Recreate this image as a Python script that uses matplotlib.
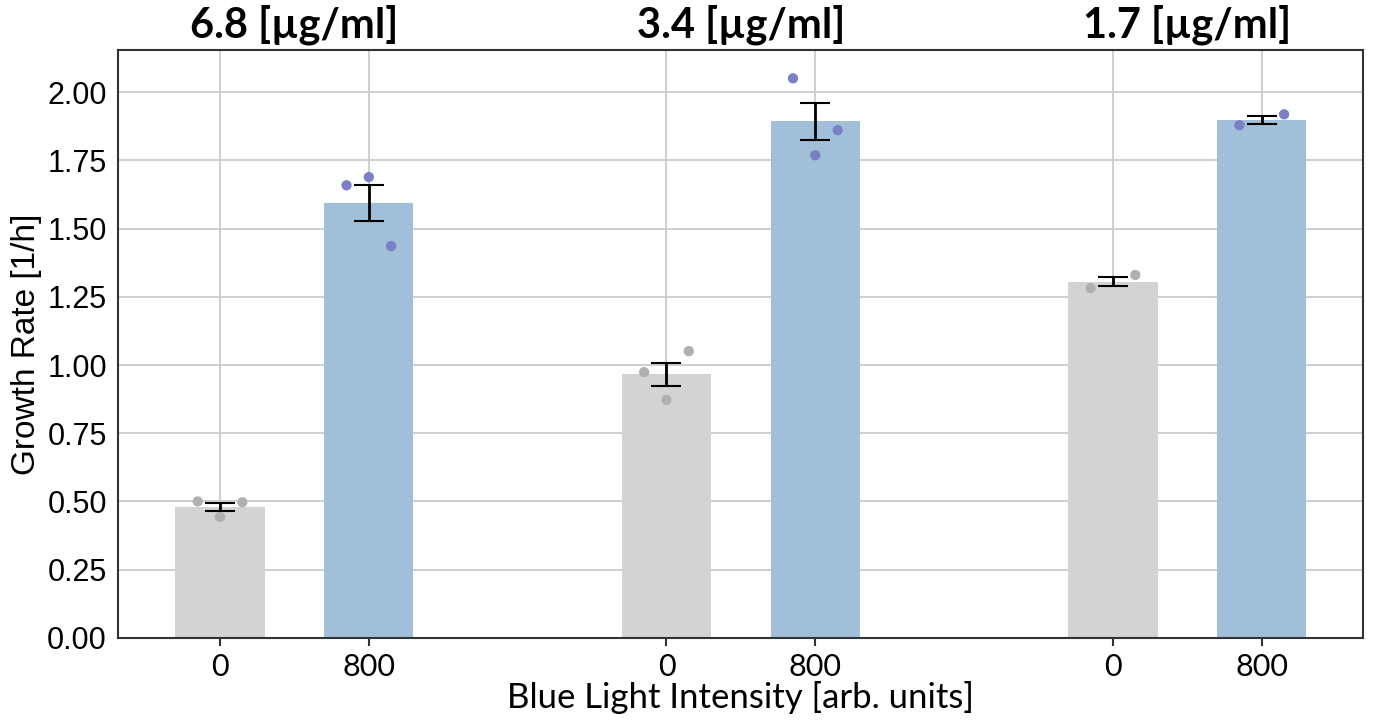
#!/usr/bin/env python3
"""Growth rate vs blue light intensity at three drug concentrations"""
#=========================================================================#
# Preamble                                                                #
#=========================================================================#
import numpy as np
import matplotlib
matplotlib.use('Agg')
import matplotlib.pyplot as plt
#-------------------------------------------------------------------------#
# Data                                                                    #
#-------------------------------------------------------------------------#
concentrations  = ['6.8 [µg/ml]', '3.4 [µg/ml]', '1.7 [µg/ml]']
intensities     = ['0', '800']
# replicate growth rates [1/h], per concentration, for 0 and 800
rates_dark      = [[0.50, 0.443, 0.497],
                   [0.974, 0.872, 1.051],
                   [1.282, 1.330]]
rates_light     = [[1.659, 1.689, 1.436],
                   [2.051, 1.769, 1.861],
                   [1.879, 1.919]]
#-------------------------------------------------------------------------#
# Styles                                                                  #
#-------------------------------------------------------------------------#
bar_colors      = ['#d3d3d3', '#a2bfd9']
dot_colors      = ['#b0b0b0', '#7b7fc4']
plt.rc('font', family=['Liberation Sans', 'DejaVu Sans'])
label_font      = ['Lato', 'DejaVu Sans']
#=========================================================================#
# Main                                                                    #
#=========================================================================#
if __name__ == '__main__':
    fig = plt.figure(figsize=(13.73, 7.24), dpi=100)
    ax  = fig.add_axes([0.086, 0.119, 0.9067, 0.812])
    ax.set_axisbelow(True)
    ax.grid(True, color='#cccccc', lw=1.3)

    xpos    = []
    xlabels = []
    for g, conc in enumerate(concentrations):
        for k, reps in enumerate([rates_dark[g], rates_light[g]]):
            x       = 3*g + k
            reps    = np.array(reps)
            mean    = reps.mean()
            sem     = reps.std()/np.sqrt(len(reps))
            offs    = np.linspace(-0.15, 0.15, 3) if len(reps) == 3 \
                      else np.array([-0.15, 0.15])
            ax.bar(x, mean, width=0.6, color=bar_colors[k], zorder=1)
            ax.scatter(x + offs, reps, s=55,
                       color=dot_colors[k], edgecolor='none', zorder=3)
            ax.errorbar(x, mean, yerr=sem, fmt='none', ecolor='black',
                        elinewidth=2, capsize=11, capthick=1.5, zorder=4)
            xpos.append(x)
            xlabels.append(intensities[k])
        ax.text(3*g + 0.5, 1.008, conc, transform=ax.get_xaxis_transform(),
                ha='center', va='bottom', fontsize=30, fontweight='bold',
                family=label_font)

    ax.set_xticks(xpos)
    ax.set_xticklabels(xlabels, family=label_font)
    ax.set_xlim(-0.685, 7.68)
    ax.set_ylim(0, 2.155)
    ax.set_yticks(np.arange(0, 2.01, 0.25))
    ax.set_yticklabels(['%.2f' % v for v in np.arange(0, 2.01, 0.25)])
    ax.tick_params(axis='x', labelsize=22, length=6, width=1.5,
                   color='#333333', pad=5)
    ax.tick_params(axis='y', labelsize=22, length=0, pad=8)
    for sp in ax.spines.values():
        sp.set_color('#333333')
        sp.set_linewidth(1.5)

    ax.set_xlabel('Blue Light Intensity [arb. units]', fontsize=25,
                  family=label_font, labelpad=0)
    ax.set_ylabel('Growth Rate [1/h]', fontsize=24, labelpad=4)

    fig.savefig('out.png', dpi=100)
    plt.close()
